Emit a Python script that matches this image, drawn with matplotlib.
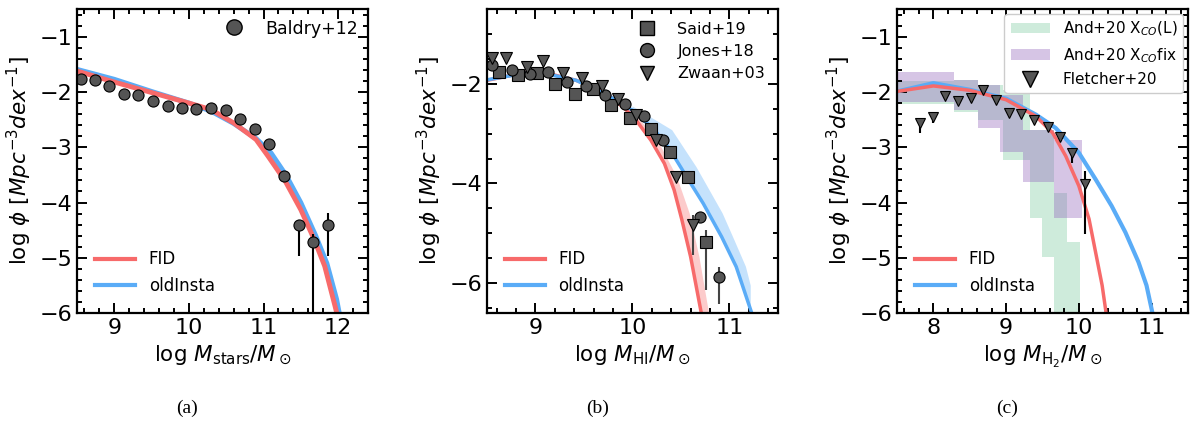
import numpy as np
import matplotlib
matplotlib.use("Agg")
import matplotlib.pyplot as plt
from matplotlib.ticker import MultipleLocator
from matplotlib.patches import Patch
from matplotlib.lines import Line2D

RED = '#f76a6a'
BLUE = '#5aacf7'
GREY = '#555555'
GREEN = '#3cb371'
PURPLE = '#9467bd'

# ---- panel (a): stellar mass function ----
baldry_x = [8.55, 8.74, 8.93, 9.13, 9.32, 9.52, 9.72, 9.91, 10.10, 10.30, 10.50,
            10.69, 10.89, 11.08, 11.28, 11.47, 11.67, 11.87]
baldry_y = [-1.76, -1.79, -1.89, -2.04, -2.06, -2.17, -2.26, -2.29, -2.30, -2.29, -2.33,
            -2.49, -2.67, -2.94, -3.52, -4.41, -4.72, -4.41]
baldry_elo = [0, 0, 0, 0, 0, 0, 0, 0, 0, 0, 0, 0, 0, 0, 0, 0.56, 1.6, 0.56]
baldry_ehi = [0, 0, 0, 0, 0, 0, 0, 0, 0, 0, 0, 0, 0, 0, 0, 0.1, 0.15, 0.22]

fid_a_x = [8.5, 9.0, 9.5, 10.0, 10.3, 10.6, 10.9, 11.06, 11.29, 11.5, 11.68, 11.82, 11.96, 12.0]
fid_a_y = [-1.62, -1.82, -2.01, -2.20, -2.32, -2.56, -2.86, -3.16, -3.61, -4.13, -4.67, -5.15, -5.88, -6.1]
old_a_x = [8.5, 9.0, 9.5, 10.0, 10.3, 10.6, 10.9, 11.1, 11.3, 11.5, 11.7, 11.85, 11.98, 12.03]
old_a_y = [-1.59, -1.77, -1.99, -2.20, -2.35, -2.57, -2.84, -3.10, -3.50, -4.00, -4.60, -5.10, -5.75, -6.1]

# ---- panel (b): HI mass function ----
said_x = [8.62, 8.82, 9.02, 9.20, 9.41, 9.59, 9.78, 9.97, 10.19, 10.39, 10.57, 10.76]
said_y = [-1.77, -1.83, -1.79, -2.01, -2.20, -2.10, -2.43, -2.68, -2.90, -3.37, -3.87, -5.17]
said_elo = [0, 0, 0, 0, 0, 0, 0, 0, 0, 0, 0, 0.96]
said_ehi = [0, 0, 0, 0, 0, 0, 0, 0, 0, 0, 0, 0.24]
jones_x = [8.55, 8.76, 8.94, 9.13, 9.33, 9.52, 9.72, 9.92, 10.12, 10.32, 10.70, 10.89]
jones_y = [-1.63, -1.72, -1.81, -1.77, -1.97, -2.05, -2.23, -2.40, -2.65, -3.13, -4.68, -5.88]
jones_elo = [0, 0, 0, 0, 0, 0, 0, 0, 0, 0, 0, 0.53]
jones_ehi = [0, 0, 0, 0, 0, 0, 0, 0, 0, 0, 0, 0.21]
zwaan_x = [8.55, 8.70, 8.91, 9.08, 9.28, 9.48, 9.69, 9.85, 10.04, 10.24, 10.45, 10.62]
zwaan_y = [-1.48, -1.48, -1.67, -1.55, -1.79, -1.88, -2.05, -2.30, -2.63, -3.13, -3.87, -4.83]
zwaan_elo = [0, 0, 0, 0, 0, 0, 0, 0, 0, 0, 0, 0.60]
zwaan_ehi = [0, 0, 0, 0, 0, 0, 0, 0, 0, 0, 0, 0.20]

fid_b_x = [8.5, 9.0, 9.42, 9.72, 10.0, 10.19, 10.33, 10.43, 10.51, 10.60, 10.71]
fid_b_y = [-1.93, -1.73, -1.93, -2.17, -2.63, -3.13, -3.60, -4.13, -4.73, -5.47, -6.60]
fid_b_edge_x = [10.0, 10.26, 10.46, 10.59, 10.69, 10.79]
fid_b_edge_y = [-2.55, -3.13, -3.87, -4.60, -5.47, -6.60]
old_b_x = [8.5, 9.0, 9.42, 9.72, 10.0, 10.23, 10.39, 10.56, 10.73, 10.92, 11.07, 11.23]
old_b_y = [-1.92, -1.75, -1.93, -2.20, -2.53, -2.93, -3.33, -3.87, -4.40, -5.07, -5.67, -6.60]
old_b_edge_x = [10.0, 10.41, 10.66, 10.93, 11.05, 11.17, 11.22, 11.22]
old_b_edge_y = [-2.45, -2.93, -3.67, -4.60, -5.13, -5.67, -6.05, -6.60]

# ---- panel (c): H2 mass function ----
fl_x = [7.82, 8.00, 8.16, 8.34, 8.52, 8.68, 8.86, 9.04, 9.20, 9.39, 9.57, 9.74, 9.91, 10.09]
fl_y = [-2.57, -2.45, -2.08, -2.17, -2.10, -1.97, -2.14, -2.38, -2.39, -2.51, -2.64, -2.81, -3.11, -3.67]
fl_elo = [0.17, 0.12, 0, 0, 0, 0, 0, 0, 0, 0, 0, 0.05, 0.17, 0.90]
fl_ehi = [0, 0, 0, 0, 0, 0, 0, 0, 0, 0, 0, 0, 0, 0.24]

and_l_edges = [7.5, 8.29, 8.61, 8.96, 9.33, 9.50, 9.66, 9.84, 10.02]
and_l_lo = [-2.22, -2.36, -2.50, -3.23, -4.28, -4.98, -6.60, -6.60]
and_l_hi = [-1.80, -1.78, -1.87, -1.96, -2.69, -2.69, -3.83, -4.72]
and_f_edges = [7.5, 8.29, 8.61, 8.91, 9.23, 9.66, 10.04]
and_f_lo = [-2.19, -2.33, -2.65, -3.08, -3.63, -4.28]
and_f_hi = [-1.64, -1.78, -1.87, -2.05, -2.69, -2.87]

fid_c_x = [7.5, 8.0, 8.5, 9.0, 9.41, 9.64, 9.82, 10.0, 10.14, 10.23, 10.32, 10.38]
fid_c_y = [-1.99, -1.89, -1.97, -2.14, -2.44, -2.74, -3.16, -3.70, -4.30, -4.90, -5.50, -6.05]
old_c_x = [7.5, 8.0, 8.5, 9.0, 9.41, 9.68, 10.0, 10.23, 10.45, 10.64, 10.82, 10.93, 11.02]
old_c_y = [-1.99, -1.84, -1.96, -2.12, -2.41, -2.65, -3.10, -3.58, -4.06, -4.54, -5.08, -5.50, -6.05]


def style(ax, xlim, ylim, ymaj, ymin):
    ax.set_xlim(*xlim)
    ax.set_ylim(*ylim)
    ax.xaxis.set_major_locator(MultipleLocator(1))
    ax.xaxis.set_minor_locator(MultipleLocator(0.2))
    ax.yaxis.set_major_locator(MultipleLocator(ymaj))
    ax.yaxis.set_minor_locator(MultipleLocator(ymin))
    ax.tick_params(which='both', direction='in', top=True, right=True, labelsize=16, width=1.4)
    ax.tick_params(which='major', length=7)
    ax.tick_params(which='minor', length=3.5)
    for s in ax.spines.values():
        s.set_linewidth(1.6)
    ax.set_ylabel(r'log $\phi$ [$Mpc^{-3}dex^{-1}$]', fontsize=15.5)


def line_legend(ax):
    h = [Line2D([], [], color=RED, lw=3), Line2D([], [], color=BLUE, lw=3)]
    leg = ax.legend(h, ['FID', 'oldInsta'], loc='lower left', frameon=False,
                    fontsize=12, handlelength=2.4, borderaxespad=0.7)
    return leg


fig = plt.figure(figsize=(11.9, 4.33), dpi=100)
W = 0.2445
ax1 = fig.add_axes([0.0647, 0.277, W, 0.702])
ax2 = fig.add_axes([0.4092, 0.277, W, 0.702])
ax3 = fig.add_axes([0.7538, 0.277, W, 0.702])

# (a)
ax1.plot(old_a_x, old_a_y, color=BLUE, lw=3.5)
ax1.plot(fid_a_x, fid_a_y, color=RED, lw=3.5)
ax1.errorbar(baldry_x, baldry_y, yerr=[baldry_elo, baldry_ehi], fmt='o', color=GREY,
             mec='k', mew=0.8, ms=8, ecolor='k', elinewidth=1.5)
style(ax1, (8.5, 12.4), (-6, -0.5), 1, 0.2)
ax1.set_xlabel(r'log $M_{\rm stars}/M_\odot$', fontsize=15.5)
l1 = line_legend(ax1)
ax1.add_artist(l1)
ax1.legend([Line2D([], [], ls='none', marker='o', color=GREY, mec='k', ms=11)], ['Baldry+12'],
           loc='upper right', frameon=False, fontsize=12.5, borderaxespad=0.2)

# (b)
ax2.fill(fid_b_x[4:] + fid_b_edge_x[::-1], fid_b_y[4:] + fid_b_edge_y[::-1],
         color=RED, alpha=0.35, lw=0)
ax2.fill(old_b_x[4:] + old_b_edge_x[::-1], old_b_y[4:] + old_b_edge_y[::-1],
         color=BLUE, alpha=0.35, lw=0)
ax2.plot(fid_b_x, fid_b_y, color=RED, lw=2.5)
ax2.plot(old_b_x, old_b_y, color=BLUE, lw=2.5)
kw = dict(color=GREY, mec='k', mew=0.8, ms=8, ecolor='#444444', elinewidth=1.5)
ax2.errorbar(said_x, said_y, yerr=[said_elo, said_ehi], fmt='s', **kw)
ax2.errorbar(jones_x, jones_y, yerr=[jones_elo, jones_ehi], fmt='o', **kw)
ax2.errorbar(zwaan_x, zwaan_y, yerr=[zwaan_elo, zwaan_ehi], fmt='v', **kw)
style(ax2, (8.5, 11.5), (-6.6, -0.5), 2, 0.5)
ax2.set_xlabel(r'log $M_{\rm HI}/M_\odot$', fontsize=15.5)
l2 = line_legend(ax2)
ax2.add_artist(l2)
mk = [Line2D([], [], ls='none', marker=m, color=GREY, mec='k', ms=10) for m in 'sov']
ax2.legend(mk, ['Said+19', 'Jones+18', 'Zwaan+03'], loc='upper right', frameon=False,
           fontsize=11.5, borderaxespad=0.4, handletextpad=0.9, labelspacing=0.45)

# (c)
ax3.stairs(and_l_hi, and_l_edges, baseline=and_l_lo, fill=True, color=GREEN, alpha=0.25, lw=0)
ax3.stairs(and_f_hi, and_f_edges, baseline=and_f_lo, fill=True, color=PURPLE, alpha=0.38, lw=0)
ax3.plot(old_c_x, old_c_y, color=BLUE, lw=3)
ax3.plot(fid_c_x, fid_c_y, color=RED, lw=2.5)
ax3.errorbar(fl_x, fl_y, yerr=[fl_elo, fl_ehi], fmt='v', color=GREY, mec='k', mew=0.8, ms=7.5,
             ecolor='k', elinewidth=1.5)
style(ax3, (7.5, 11.5), (-6, -0.5), 1, 0.2)
ax3.set_xlabel(r'log $M_{\rm H_2}/M_\odot$', fontsize=15.5)
l3 = line_legend(ax3)
ax3.add_artist(l3)
hc = [Patch(color=GREEN, alpha=0.25, lw=0), Patch(color=PURPLE, alpha=0.38, lw=0),
      Line2D([], [], ls='none', marker='v', color=GREY, mec='k', ms=11)]
ax3.legend(hc, [r'And+20 X$_{CO}$(L)', r'And+20 X$_{CO}$fix', 'Fletcher+20'],
           loc='upper right', fontsize=11, borderaxespad=0.3, framealpha=1,
           edgecolor='#cccccc', fancybox=True, handlelength=2.6, labelspacing=0.5)

for xc, t in zip([0.157, 0.502, 0.846], ['(a)', '(b)', '(c)']):
    fig.text(xc, 0.058, t, ha='center', va='center', family='Liberation Serif', fontsize=14)

fig.savefig('out.png', dpi=100)
